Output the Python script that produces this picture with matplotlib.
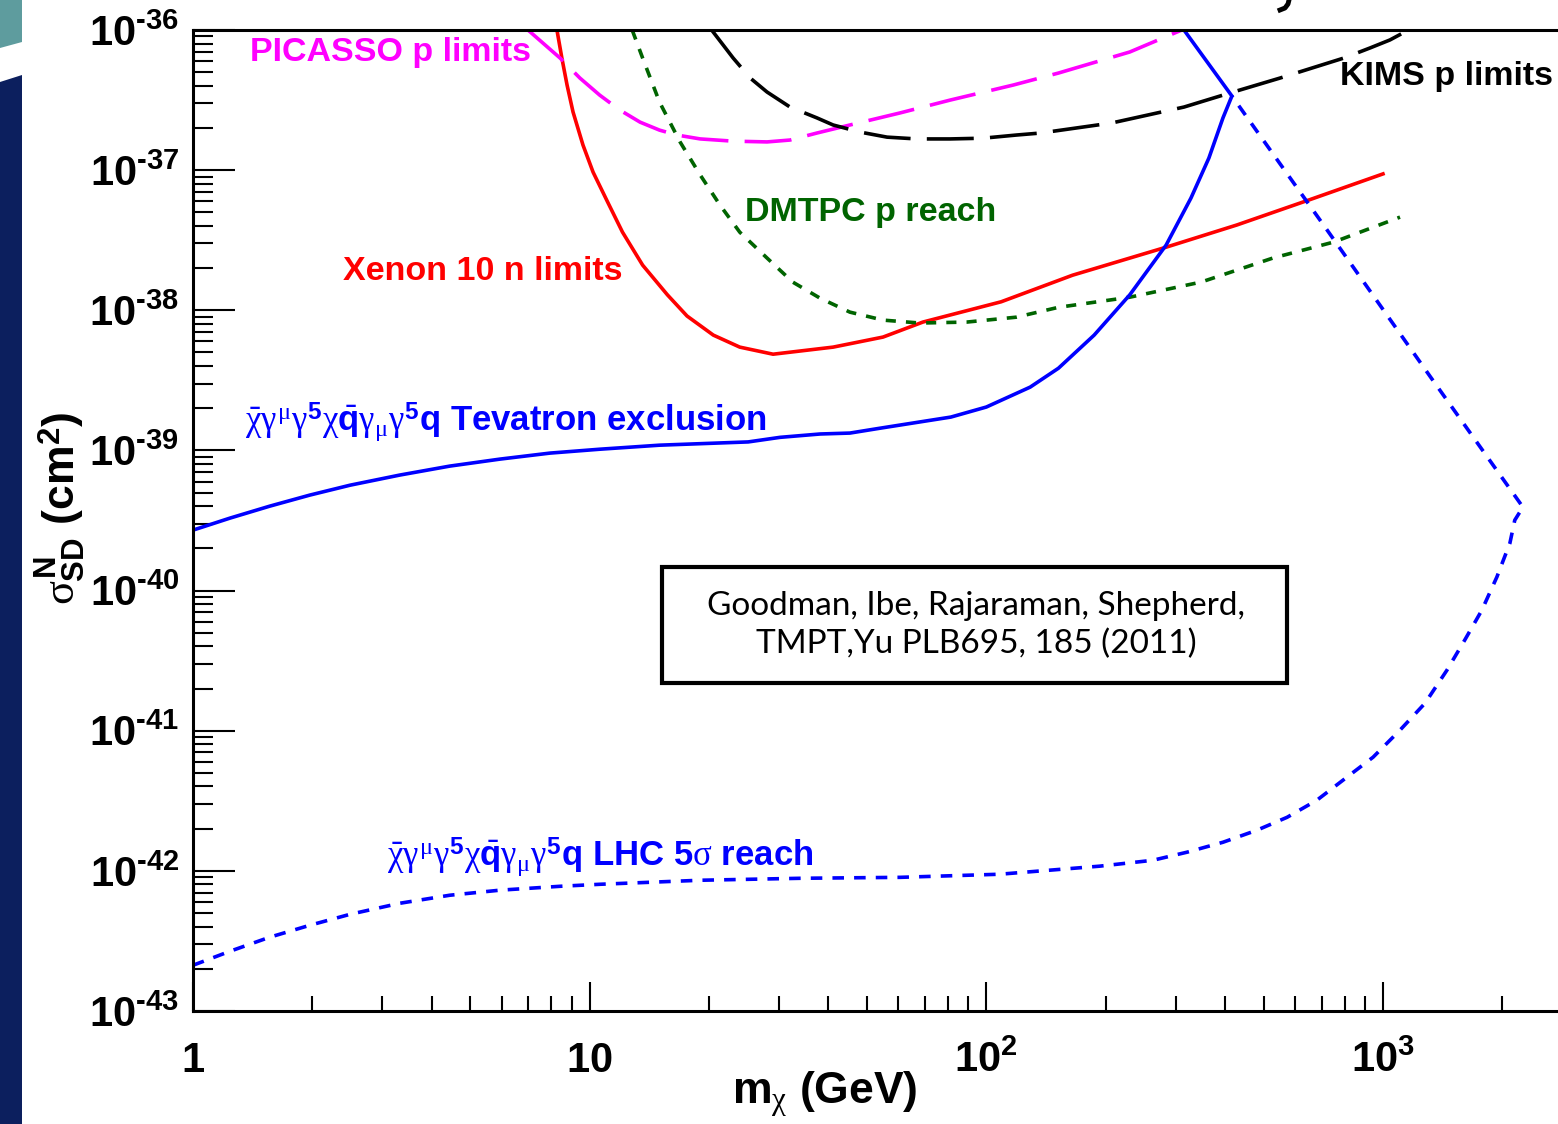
import numpy as np
import matplotlib
matplotlib.use('Agg')
import matplotlib.pyplot as plt
from matplotlib.patches import Rectangle, Polygon
from matplotlib.lines import Line2D
from matplotlib.ticker import LogLocator, NullFormatter

plt.rcParams['font.family'] = 'Liberation Sans'
plt.rcParams['mathtext.fontset'] = 'custom'
plt.rcParams['mathtext.rm'] = 'Liberation Sans'
plt.rcParams['mathtext.it'] = 'Liberation Serif'
plt.rcParams['mathtext.bf'] = 'Liberation Sans:bold'

# Xenon 10 n limits (red, solid)
xenon_m = [8.13, 8.27, 8.51, 8.77, 9.08, 9.62, 10.2, 11.1, 12.1, 13.6, 15.7, 17.6, 20.5, 23.9,
           29.0, 41.1, 54.9, 69.2, 109, 165, 284, 428, 650, 1000]
xenon_s = [1.28e-36, 1.0e-36, 6.31e-37, 4.05e-37, 2.60e-37, 1.51e-37, 9.68e-38, 5.92e-38,
           3.61e-38, 2.10e-38, 1.29e-38, 9.10e-39, 6.65e-39, 5.46e-39, 4.86e-39, 5.46e-39,
           6.44e-39, 8.24e-39, 1.15e-38, 1.78e-38, 2.82e-38, 4.06e-38, 6.12e-38, 9.4e-38]

# PICASSO p limits (magenta, long dash)
picasso_m = [6.99, 8.42, 9.45, 10.6, 11.9, 13.4, 15.0, 16.6, 19.0, 23.0, 28.0, 32.0, 37.4, 45.3,
             60.6, 81.0, 117, 152, 230, 311]
picasso_s = [1.0e-36, 6.31e-37, 4.54e-37, 3.43e-37, 2.69e-37, 2.20e-37, 1.93e-37, 1.78e-37,
             1.67e-37, 1.61e-37, 1.59e-37, 1.64e-37, 1.84e-37, 2.10e-37, 2.56e-37, 3.16e-37,
             4.05e-37, 4.93e-37, 6.97e-37, 1.0e-36]

# KIMS p limits (black, long dash)
kims_m = [20.3, 23.0, 25.4, 28.0, 32.0, 37.4, 41.1, 48.0, 56.2, 66.8, 81.0, 98.0, 119, 137, 207,
          315, 411, 550, 797, 927, 1041, 1135]
kims_s = [1.0e-36, 6.31e-37, 4.54e-37, 3.61e-37, 2.82e-37, 2.36e-37, 2.10e-37, 1.87e-37,
          1.72e-37, 1.67e-37, 1.67e-37, 1.69e-37, 1.78e-37, 1.84e-37, 2.17e-37, 2.82e-37,
          3.55e-37, 4.54e-37, 6.31e-37, 7.44e-37, 8.49e-37, 9.68e-37]

# DMTPC p reach (green, dotted)
dmtpc_m = [12.8, 13.6, 15.0, 16.9, 19.0, 21.3, 23.9, 28.0, 32.5, 38.1, 45.3, 54.9, 68.0, 89.3,
           119, 152, 230, 348, 528, 752, 1104]
dmtpc_s = [1.0e-36, 6.31e-37, 3.06e-37, 1.59e-37, 9.23e-38, 5.64e-38, 3.61e-38, 2.36e-38,
           1.59e-38, 1.22e-38, 9.70e-39, 8.51e-39, 8.11e-39, 8.24e-39, 8.93e-39, 1.05e-38,
           1.24e-38, 1.59e-38, 2.36e-38, 3.07e-38, 4.62e-38]

# Tevatron exclusion (blue, solid)
tev_m = [1.0, 1.24, 1.56, 1.97, 2.49, 3.32, 4.44, 5.94, 7.94, 10.6, 15.0, 25.1, 30.2, 38.1,
         45.3, 53.9, 81.4, 100, 129, 152, 187, 230, 284, 328, 364, 395, 416, 315]
tev_s = [2.70e-40, 3.29e-40, 4.00e-40, 4.80e-40, 5.65e-40, 6.67e-40, 7.73e-40, 8.67e-40,
         9.57e-40, 1.02e-39, 1.09e-39, 1.15e-39, 1.24e-39, 1.31e-39, 1.33e-39, 1.44e-39,
         1.73e-39, 2.04e-39, 2.83e-39, 3.86e-39, 6.65e-39, 1.29e-38, 2.92e-38, 6.32e-38,
         1.22e-37, 2.36e-37, 3.38e-37, 1.0e-36]

# LHC 5 sigma reach (blue, dashed)
lhc_m = [1.0, 1.24, 1.56, 1.97, 2.49, 3.32, 4.44, 5.94, 8.42, 10.6, 19.0, 33.9, 60.6, 108, 193,
         263, 321, 395, 481, 573, 681, 811, 944, 1104, 1276, 1449, 1607, 1775, 1937, 2089, 2149,
         2253, 1313, 735, 416]
lhc_s = [2.12e-43, 2.67e-43, 3.36e-43, 4.09e-43, 4.90e-43, 5.87e-43, 6.70e-43, 7.28e-43,
         7.76e-43, 8.02e-43, 8.57e-43, 8.85e-43, 8.99e-43, 9.46e-43, 1.08e-42, 1.19e-42,
         1.36e-42, 1.60e-42, 1.95e-42, 2.41e-42, 3.19e-42, 4.66e-42, 6.47e-42, 1.01e-41,
         1.57e-41, 2.70e-41, 4.43e-41, 7.24e-41, 1.25e-40, 2.18e-40, 3.18e-40, 3.94e-40,
         3.39e-39, 3.50e-38, 3.38e-37]

ytick_exp = ['43', '42', '41', '40', '39', '38', '37', '36']
xtick_vals = [1, 10, 100, 1000]
xtick_labels = [r'$\mathbf{1}$', r'$\mathbf{10}$', r'$\mathbf{10^{2}}$', r'$\mathbf{10^{3}}$']

W, H = 1558, 1124
fig = plt.figure(figsize=(W / 100, H / 100), dpi=100)
ax = fig.add_axes([193 / W, 1 - 1011 / H, 1 - 193 / W, (1011 - 30) / H])

lw = 2.6
ax.plot(xenon_m, xenon_s, color='#ff0000', lw=lw)
ax.plot(picasso_m, picasso_s, color='#ff00ff', lw=lw, dashes=(13, 4.5))
ax.plot(kims_m, kims_s, color='black', lw=lw, dashes=(13, 4.5))
ax.plot(dmtpc_m, dmtpc_s, color='#006400', lw=lw, dashes=(2.8, 2.8))
ax.plot(tev_m, tev_s, color='#0000ff', lw=lw)
ax.plot(lhc_m, lhc_s, color='#0000ff', lw=lw, dashes=(3.2, 2.8))

ax.set_xscale('log')
ax.set_yscale('log')
ax.set_xlim(1, 2762)
ax.set_ylim(1e-43, 1e-36)

for side in ['left', 'bottom', 'top']:
    ax.spines[side].set_linewidth(2.2)
ax.spines['right'].set_visible(False)

ax.set_yticks([10.0 ** -int(e) for e in ytick_exp])
# plain hyphen in the exponent, as in the original
ax.set_yticklabels(['$\\mathbf{10^{\u2010%s}}$' % e for e in ytick_exp])
ax.set_xticks(xtick_vals)
ax.set_xticklabels(xtick_labels)
ax.yaxis.set_minor_locator(LogLocator(base=10, subs=np.arange(2, 10), numticks=30))
ax.xaxis.set_minor_locator(LogLocator(base=10, subs=np.arange(2, 10), numticks=30))
ax.yaxis.set_minor_formatter(NullFormatter())
ax.xaxis.set_minor_formatter(NullFormatter())

ax.tick_params(which='both', direction='in', top=False, right=False, width=1.5, labelsize=30)
ax.tick_params(axis='y', which='major', length=30, pad=10)
ax.tick_params(axis='y', which='minor', length=14.5)
ax.tick_params(axis='x', which='major', length=21, pad=44)
ax.tick_params(axis='x', which='minor', length=10.5)
for t in ax.get_xticklabels():
    t.set_verticalalignment('baseline')

# axis titles
fig.text(825 / W, 1 - 1094 / H, r'$\mathbf{m}_{\chi}$ (GeV)', fontsize=32,
         fontweight='bold', ha='center', va='center')
fig.text(60 / W, 1 - 508 / H, r'$\sigma^{\mathbf{N}}_{\mathbf{SD}}$ (cm$^{\mathbf{2}}$)',
         fontsize=32, fontweight='bold', rotation=90, ha='center', va='center')

# curve labels
lab = dict(fontsize=24.5, fontweight='bold', va='center', ha='left')
fig.text(250 / W, 1 - 53 / H, 'PICASSO p limits', color='#ff00ff', **lab)
fig.text(1340 / W, 1 - 77 / H, 'KIMS p limits', color='black', **lab)
fig.text(745 / W, 1 - 213 / H, 'DMTPC p reach', color='#006400', **lab)
fig.text(343 / W, 1 - 272 / H, 'Xenon 10 n limits', color='#ff0000', **lab)
op = r'$\bar{\chi}\gamma^{\mu}\gamma^{\mathbf{5}}\chi\bar{\mathbf{q}}\gamma_{\mu}\gamma^{\mathbf{5}}\mathbf{q}$'
lab['fontsize'] = 25
fig.text(245 / W, 1 - 422 / H, op + ' Tevatron exclusion', color='#0000ff', **lab)
fig.text(387 / W, 1 - 857 / H, op + r' LHC 5$\sigma$ reach', color='#0000ff', **lab)

# citation box
fig.patches.append(Rectangle((662 / W, 1 - 683 / H), (1287 - 662) / W, (683 - 567) / H,
                             transform=fig.transFigure, facecolor='white',
                             edgecolor='black', lw=3, zorder=5))
fig.text(976 / W, 1 - 625 / H, 'Goodman, Ibe, Rajaraman, Shepherd,\nTMPT,Yu PLB695, 185 (2011)',
         family='Lato', fontsize=24, ha='center', va='center', linespacing=1.3, zorder=6)

# slide decoration on the left edge and the cut-off title bracket at the top
fig.patches.append(Polygon([(0, 0), (22 / W, 0), (22 / W, 1 - 75 / H), (0, 1 - 82 / H)],
                           closed=True, transform=fig.transFigure, facecolor='#0c1f5e',
                           edgecolor='none'))
fig.patches.append(Polygon([(0, 1), (22 / W, 1), (22 / W, 1 - 42 / H), (0, 1 - 48 / H)],
                           closed=True, transform=fig.transFigure, facecolor='#5e9c9e',
                           edgecolor='none'))
fig.add_artist(Line2D([1289 / W, 1288 / W, 1285 / W, 1280 / W],
                      [1, 1 - 4 / H, 1 - 8 / H, 1 - 10 / H],
                      transform=fig.transFigure, color='black', lw=3.5))

fig.savefig('out.png', dpi=100)
